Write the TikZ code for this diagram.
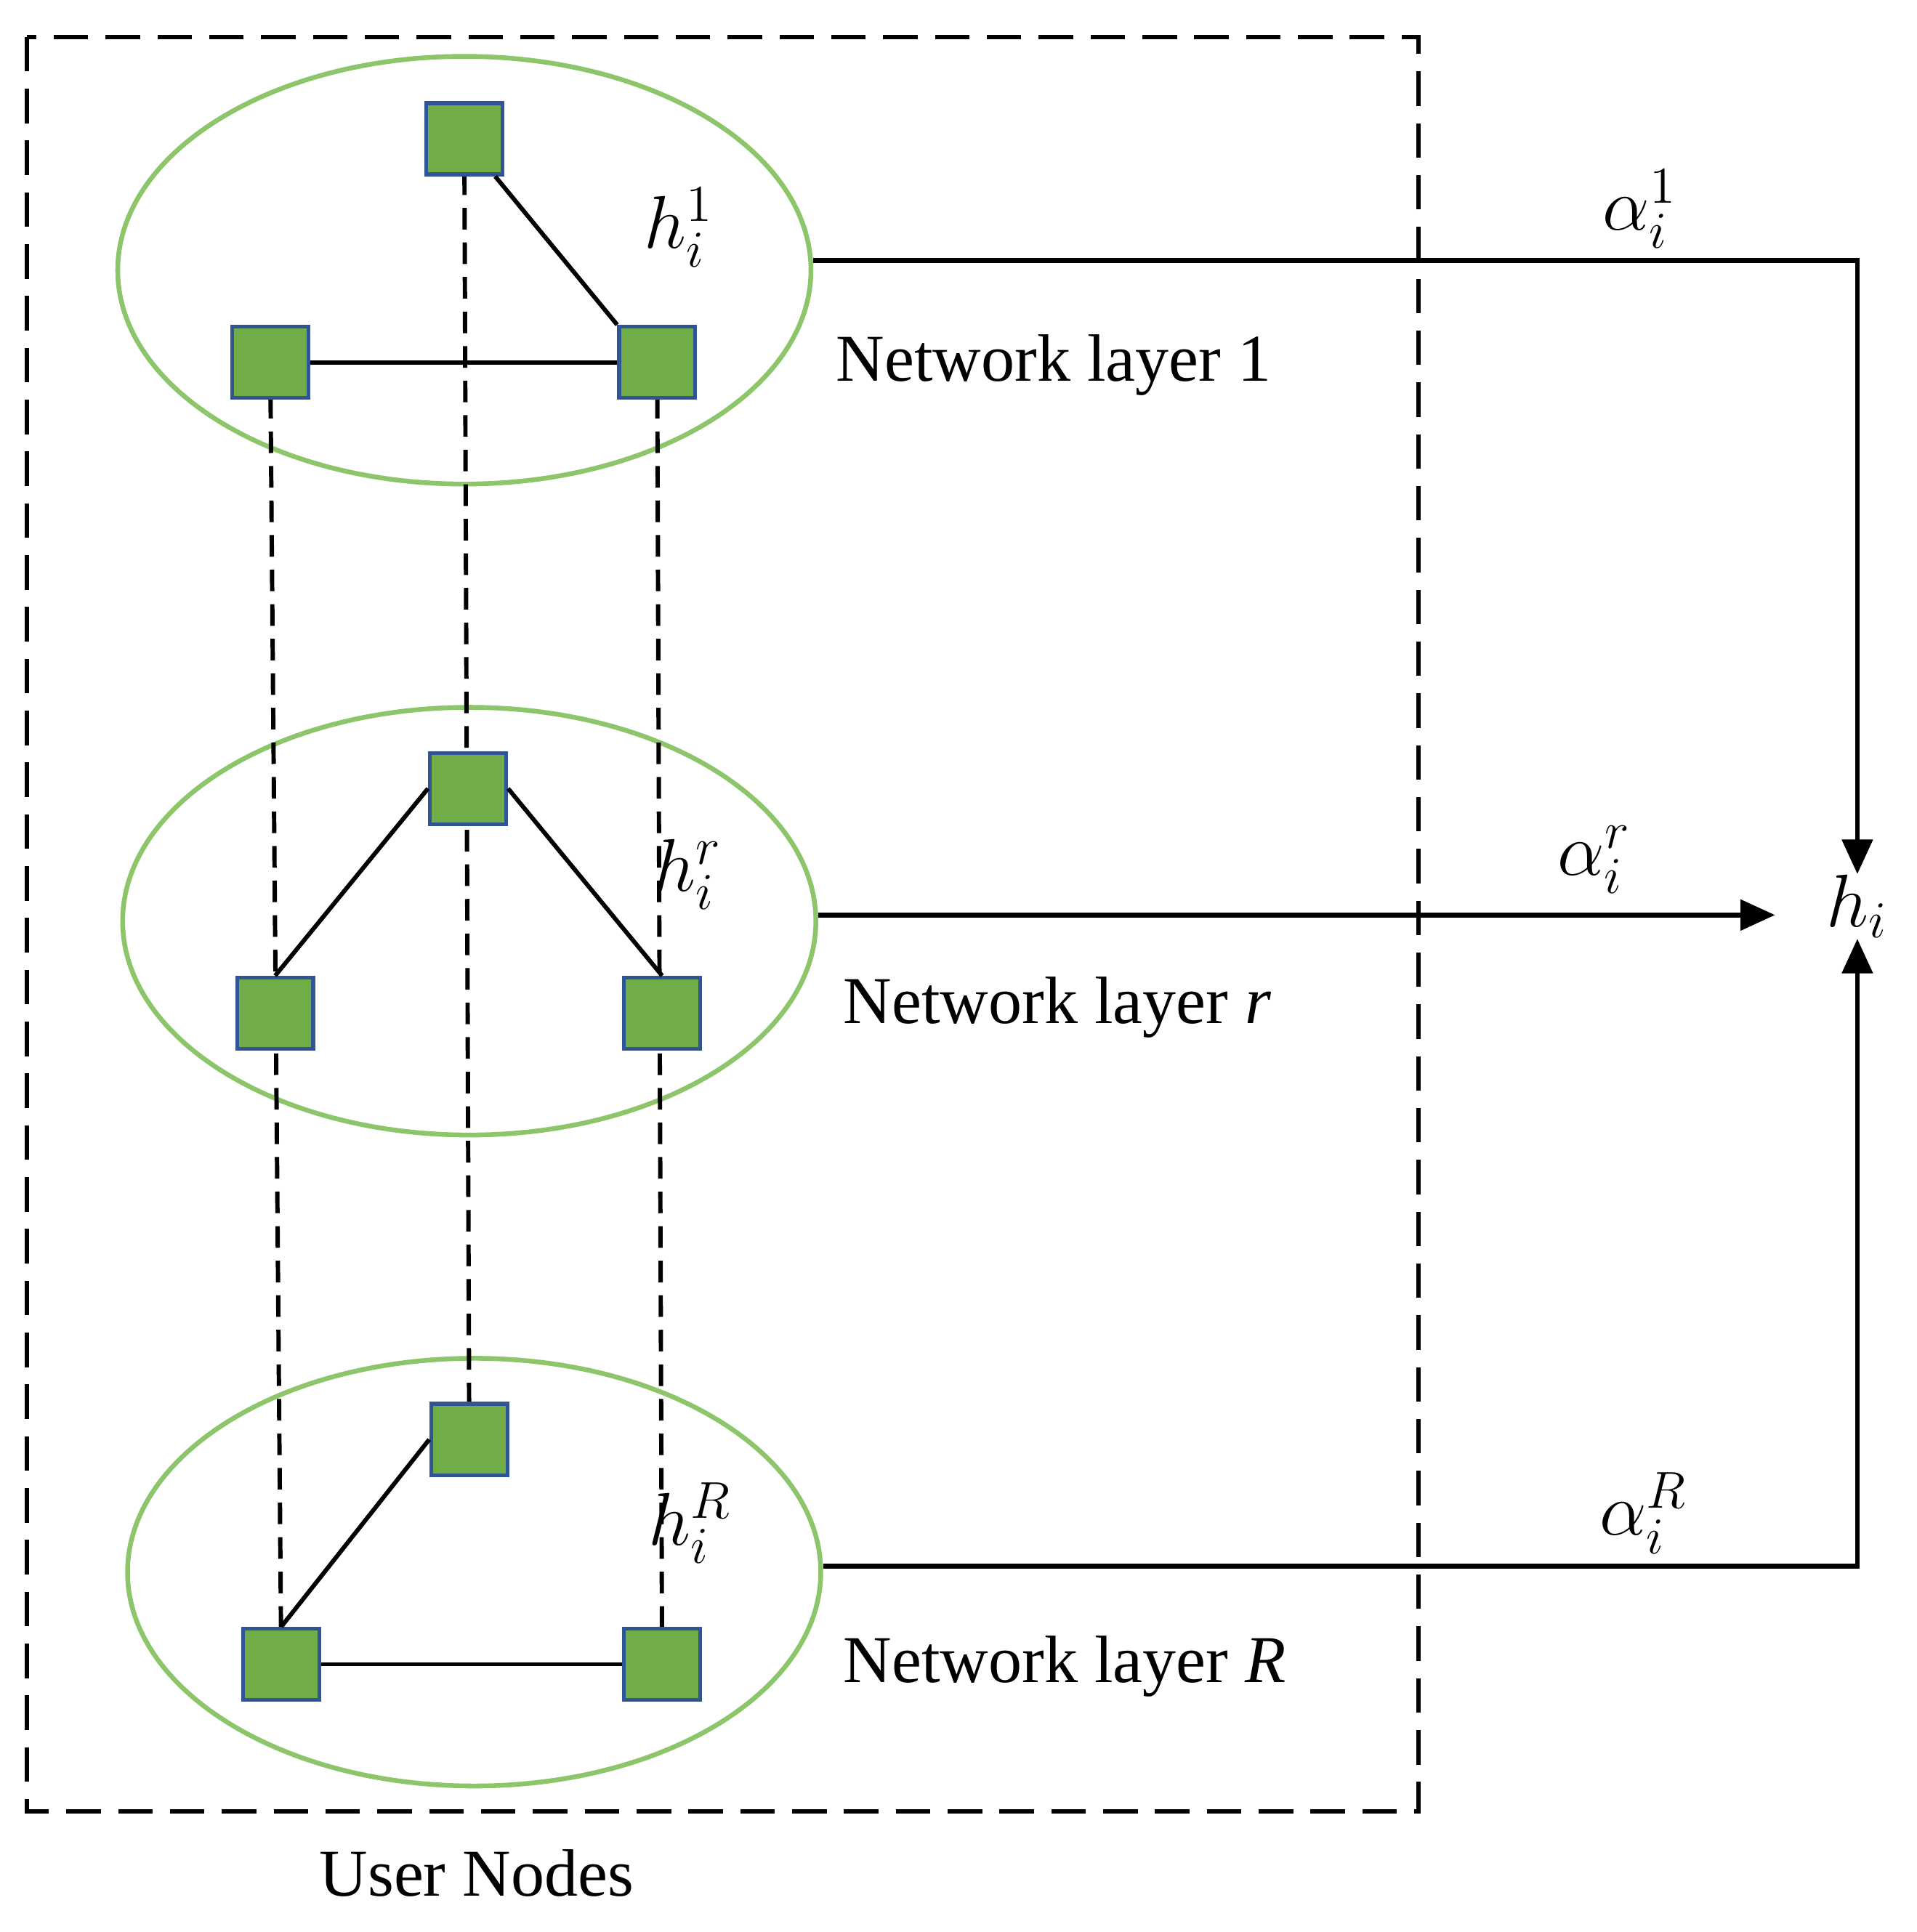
\documentclass[tikz,border=0pt]{standalone}
\usepackage{fontspec}
\setmainfont{Liberation Serif}
\usetikzlibrary{shapes.geometric,arrows.meta}
\definecolor{sqg}{HTML}{70AD47}
\definecolor{sqb}{HTML}{2F5597}
\definecolor{elg}{HTML}{8CC56A}
\begin{document}
\begin{tikzpicture}[x=0.01cm,y=-0.01cm,
 sq/.style={draw=sqb,fill=sqg,line width=0.9pt,minimum width=0.62cm,minimum height=0.58cm,inner sep=0},
 lay/.style={draw=elg,line width=1.1pt,ellipse,minimum width=5.64cm,minimum height=3.48cm,inner sep=0},
 edge/.style={line width=1pt},
 vd/.style={line width=1pt,dash pattern=on 5pt off 3pt},
 arr/.style={line width=1.1pt,-{Triangle[length=8pt,width=7pt]}},
 txt/.style={font=\fontsize{15.5}{18}\selectfont,inner sep=0},
 mth/.style={font=\fontsize{17}{19}\selectfont,inner sep=0}]
\useasboundingbox (0,0) rectangle (1560,1573);
\draw[line width=1pt,dash pattern=on 8pt off 4pt] (22,30) rectangle (1155,1475);
\node[lay] (e1) at (378,220) {};
\node[lay] (er) at (382,750) {};
\node[lay] (eR) at (386,1280) {};
\coordinate (p1t) at (378,113); \coordinate (p1l) at (220,295); \coordinate (p1r) at (535,295);
\coordinate (prt) at (381,642); \coordinate (prl) at (224,825); \coordinate (prr) at (539,825);
\coordinate (pRt) at (382,1172); \coordinate (pRl) at (229,1355); \coordinate (pRr) at (539,1355);
\draw[vd] (p1l) -- (pRl);
\draw[vd] (p1t) -- (pRt);
\draw[vd] (p1r) -- (pRr);
\node[sq] (a1) at (p1t) {}; \node[sq] (b1) at (p1l) {}; \node[sq] (c1) at (p1r) {};
\node[sq] (ar) at (prt) {}; \node[sq] (br) at (prl) {}; \node[sq] (cr) at (prr) {};
\node[sq] (aR) at (pRt) {}; \node[sq] (bR) at (pRl) {}; \node[sq] (cR) at (pRr) {};
\draw[edge] (a1) -- (c1.north west); \draw[edge] (b1) -- (c1);
\draw[edge] (ar.west) -- (br.north); \draw[edge] (ar.east) -- (cr.north);
\draw[edge] (aR.west) -- (bR.north); \draw[edge] (bR) -- (cR);
\node[mth] (h1) at (553,185) {$h_i^1$};
\node[mth] (hr) at (560,712) {$h_i^r$};
\node[mth] (hR) at (562,1240) {$h_i^R$};
\node[txt,anchor=west] (n1) at (680,297) {Network layer 1};
\node[txt,anchor=west] (nr) at (686,820) {Network layer \textit{r}};
\node[txt,anchor=west] (nR) at (686,1357) {Network layer \textit{R}};
\node[txt] (un) at (388,1525) {User Nodes};
\node[mth] (h) at (1512,738) {$h_i$};
\coordinate (k1) at (1512,212);
\coordinate (kR) at (1512,1275);
\coordinate (km) at (1445,745);
\draw[arr] (e1.east |- k1) -- (k1) -- (h.north);
\draw[arr] (er.east |- km) -- (km);
\draw[arr] (eR.east |- kR) -- (kR) -- (h.south -| kR);
\node[mth] (q1) at (1335,170) {$\alpha_i^1$};
\node[mth] (qr) at (1298,700) {$\alpha_i^r$};
\node[mth] (qR) at (1338,1232) {$\alpha_i^R$};
\end{tikzpicture}
\end{document}
